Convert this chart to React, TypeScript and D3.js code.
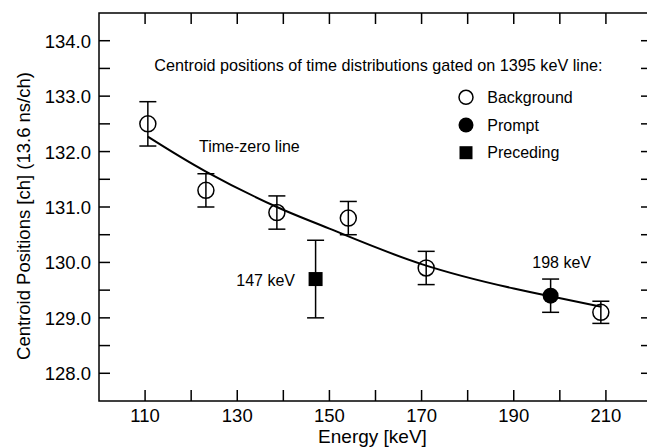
import React from "react";
import * as d3 from "d3";

const bgEnergy = [110.6, 123.2, 138.6, 154.1, 171, 208.9];
const bgValue = [132.5, 131.3, 130.9, 130.8, 129.9, 129.1];
const bgError = [0.4, 0.3, 0.3, 0.3, 0.3, 0.2];

const promptEnergy = [198];
const promptValue = [129.4];
const promptError = [0.3];

const precEnergy = [147];
const precValue = [129.7];
const precError = [0.7];

const curveEnergy = [110.6, 123.2, 138.6, 150, 170, 190, 198, 209];
const curveValue = [132.27, 131.64, 131.0, 130.61, 129.97, 129.53, 129.39, 129.2];

const xTickLabels = [110, 130, 150, 170, 190, 210];
const xMinorTicks = [110, 120, 130, 140, 150, 160, 170, 180, 190, 200, 210];
const yTickLabels = [128, 129, 130, 131, 132, 133, 134];
const yMinorTicks = [128, 128.5, 129, 129.5, 130, 130.5, 131, 131.5, 132, 132.5, 133, 133.5, 134];

const FONT = "'Liberation Sans', Arial, Helvetica, sans-serif";

export default function App() {
  const W = 647, H = 447;
  const x = d3.scaleLinear().domain([100, 220]).range([99, 652]);
  const y = d3.scaleLinear().domain([127.5, 134.5]).range([401, 13]);
  const line = d3
    .line<number>()
    .x((_, i) => x(curveEnergy[i]))
    .y((d) => y(d))
    .curve(d3.curveNatural);
  const tick = 11;
  const cap = 8.5;
  const sw = 1.5;

  const errBar = (e: number, v: number, err: number, key: string) => (
    <g key={key} stroke="#000" strokeWidth={sw} fill="none">
      <line x1={x(e)} x2={x(e)} y1={y(v - err)} y2={y(v + err)} />
      <line x1={x(e) - cap} x2={x(e) + cap} y1={y(v - err)} y2={y(v - err)} />
      <line x1={x(e) - cap} x2={x(e) + cap} y1={y(v + err)} y2={y(v + err)} />
    </g>
  );

  return (
    <svg
      width={W}
      height={H}
      style={{ position: "absolute", left: 0, top: 0, background: "#fff" }}
      fontFamily={FONT}
    >
      <rect x={0} y={0} width={W} height={H} fill="#fff" />
      <rect
        x={x(100)}
        y={y(134.5)}
        width={x(220) - x(100)}
        height={y(127.5) - y(134.5)}
        fill="none"
        stroke="#000"
        strokeWidth={sw}
      />
      {xMinorTicks.map((t) => (
        <g key={"xt" + t} stroke="#000" strokeWidth={sw}>
          <line x1={x(t)} x2={x(t)} y1={y(127.5)} y2={y(127.5) - tick} />
          <line x1={x(t)} x2={x(t)} y1={y(134.5)} y2={y(134.5) + tick} />
        </g>
      ))}
      {xTickLabels.map((t) => (
        <text key={"xl" + t} x={x(t)} y={422} textAnchor="middle" fontSize={18.5} fill="#000">
          {t}
        </text>
      ))}
      {yMinorTicks.map((t) => (
        <g key={"yt" + t} stroke="#000" strokeWidth={sw}>
          <line x1={x(100)} x2={x(100) + tick} y1={y(t)} y2={y(t)} />
          <line x1={x(220)} x2={x(220) - tick} y1={y(t)} y2={y(t)} />
        </g>
      ))}
      {yTickLabels.map((t) => (
        <text key={"yl" + t} x={91} y={y(t) + 7} textAnchor="end" fontSize={18.5} fill="#000">
          {t.toFixed(1)}
        </text>
      ))}
      <text x={372.5} y={442.5} textAnchor="middle" fontSize={19} fill="#000">
        Energy [keV]
      </text>
      <text
        transform={`translate(30,216) rotate(-90)`}
        textAnchor="middle"
        fontSize={18.5}
        fill="#000"
      >
        Centroid Positions [ch] (13.6 ns/ch)
      </text>
      <path d={line(curveValue) || ""} fill="none" stroke="#000" strokeWidth={2} />
      {bgEnergy.map((e, i) => errBar(e, bgValue[i], bgError[i], "be" + i))}
      {bgEnergy.map((e, i) => (
        <circle key={"bc" + i} cx={x(e)} cy={y(bgValue[i])} r={8} fill="none" stroke="#000" strokeWidth={sw} />
      ))}
      {promptEnergy.map((e, i) => errBar(e, promptValue[i], promptError[i], "pe" + i))}
      {promptEnergy.map((e, i) => (
        <circle key={"pc" + i} cx={x(e)} cy={y(promptValue[i])} r={8} fill="#000" />
      ))}
      {precEnergy.map((e, i) => errBar(e, precValue[i], precError[i], "qe" + i))}
      {precEnergy.map((e, i) => (
        <rect key={"qr" + i} x={x(e) - 7} y={y(precValue[i]) - 7} width={14} height={14} fill="#000" />
      ))}
      <text x={154.3} y={71} fontSize={16.2} fill="#000">
        Centroid positions of time distributions gated on 1395 keV line:
      </text>
      <text x={199} y={152} fontSize={16} fill="#000">
        Time-zero line
      </text>
      <text x={295} y={285.5} textAnchor="end" fontSize={16} fill="#000">
        147 keV
      </text>
      <text x={532.3} y={268} fontSize={16} fill="#000">
        198 keV
      </text>
      <circle cx={466} cy={97.3} r={7} fill="none" stroke="#000" strokeWidth={sw} />
      <text x={487.3} y={103} fontSize={16} fill="#000">Background</text>
      <circle cx={466} cy={125} r={7.5} fill="#000" />
      <text x={487.3} y={130.7} fontSize={16} fill="#000">Prompt</text>
      <rect x={459.5} y={146.2} width={13} height={13} fill="#000" />
      <text x={487.3} y={158.4} fontSize={16} fill="#000">Preceding</text>
    </svg>
  );
}
